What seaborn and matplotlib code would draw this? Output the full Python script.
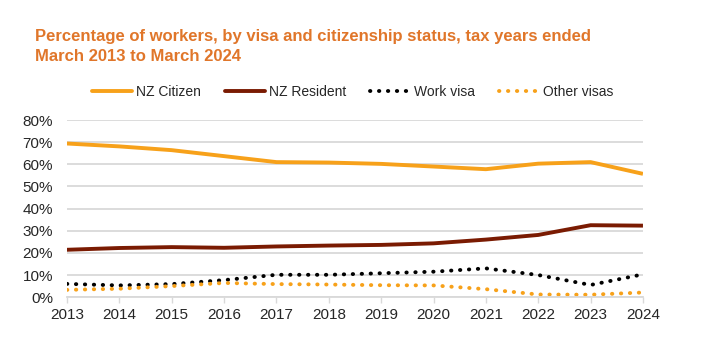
import numpy as np
import pandas as pd
import matplotlib
matplotlib.use("Agg")
import matplotlib.pyplot as plt
import seaborn as sns
from matplotlib.ticker import PercentFormatter
from matplotlib.lines import Line2D

years = list(range(2013, 2025))
nz_citizen = [69.4, 68.1, 66.4, 63.7, 61.0, 60.8, 60.2, 59.0, 57.8, 60.3, 61.0, 55.7]
nz_resident = [21.4, 22.2, 22.6, 22.3, 22.9, 23.3, 23.6, 24.3, 26.0, 28.1, 32.5, 32.3]
work_visa = [6.0, 5.3, 5.9, 7.7, 10.1, 10.1, 10.8, 11.5, 13.0, 10.0, 5.5, 10.3]
other_visas = [3.3, 3.8, 5.0, 6.4, 5.9, 5.7, 5.4, 5.3, 3.6, 1.2, 1.1, 2.1]

series_names = ["NZ Citizen", "NZ Resident", "Work visa", "Other visas"]

df = pd.DataFrame({
    "year": years * 4,
    "value": nz_citizen + nz_resident + work_visa + other_visas,
    "status": sum([[n] * len(years) for n in series_names], []),
})

sns.set_theme(style="white")
plt.rcParams['font.family'] = ['Liberation Sans', 'DejaVu Sans']

fig = plt.figure(figsize=(7.2, 3.5), dpi=100)
ax = fig.add_axes([0.093, 0.151, 0.800, 0.506])

palette = {"NZ Citizen": "#F7A11A", "NZ Resident": "#7A1B02",
           "Work visa": "#000000", "Other visas": "#F7A11A"}
dashes = {"NZ Citizen": "", "NZ Resident": "", "Work visa": (0.1, 2.2), "Other visas": (0.1, 2.2)}

sns.lineplot(data=df, x="year", y="value", hue="status", style="status",
             palette=palette, dashes=dashes, linewidth=2.8, ax=ax, legend=False)
for line in ax.lines:
    line.set_solid_capstyle("butt")
    line.set_dash_capstyle("round")

ax.set_xlim(2013, 2024)
ax.set_ylim(0, 80)
ax.set_yticks(range(0, 81, 10))
ax.set_xticks(years)
ax.yaxis.set_major_formatter(PercentFormatter(decimals=0))
ax.grid(axis="y", color="#D9D9D9", linewidth=1.3)
ax.set_axisbelow(True)
for s in ["top", "right", "left"]:
    ax.spines[s].set_visible(False)
ax.spines["bottom"].set_color("#D9D9D9")
ax.spines["bottom"].set_linewidth(1.3)
ax.tick_params(axis="x", bottom=True, length=4, color="#D9D9D9", width=1, labelsize=11, pad=4)
ax.tick_params(axis="y", left=False, labelsize=11, pad=4)
ax.set_xlabel("")
ax.set_ylabel("")

# legend
handles = [Line2D([], [], color=palette[n], linewidth=2.8,
                  linestyle=(0, dashes[n]) if dashes[n] else "-",
                  dash_capstyle="round") for n in series_names]
fig.legend(handles, series_names, loc="center", bbox_to_anchor=(0.49, 0.737),
           ncol=4, frameon=False, fontsize=10, handlelength=2.9, columnspacing=1.7,
           handletextpad=0.3)

fig.text(0.049, 0.867, "Percentage of workers, by visa and citizenship status, tax years ended\nMarch 2013 to March 2024",
         color="#E0762A", fontsize=12, fontweight="bold", va="center", ha="left", linespacing=1.38)

fig.savefig("out.png", dpi=100)
